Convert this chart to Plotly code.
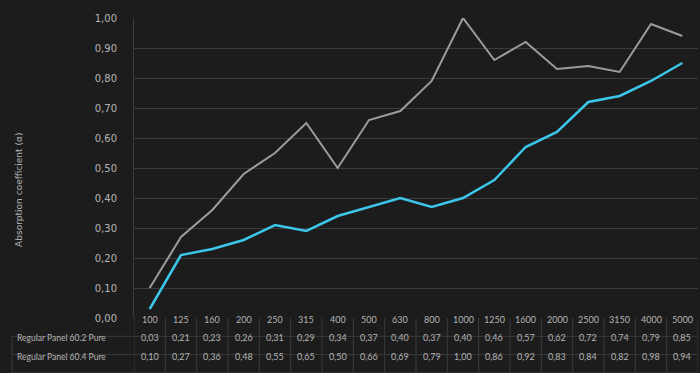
import plotly.graph_objects as go

freqs = ["100", "125", "160", "200", "250", "315", "400", "500", "630", "800",
         "1000", "1250", "1600", "2000", "2500", "3150", "4000", "5000"]
panel_602 = [0.03, 0.21, 0.23, 0.26, 0.31, 0.29, 0.34, 0.37, 0.40, 0.37,
             0.40, 0.46, 0.57, 0.62, 0.72, 0.74, 0.79, 0.85]
panel_604 = [0.10, 0.27, 0.36, 0.48, 0.55, 0.65, 0.50, 0.66, 0.69, 0.79,
             1.00, 0.86, 0.92, 0.83, 0.84, 0.82, 0.98, 0.94]
series_names = ["Regular Panel 60.2 Pure", "Regular Panel 60.4 Pure"]
y_ticks = [0.0, 0.1, 0.2, 0.3, 0.4, 0.5, 0.6, 0.7, 0.8, 0.9, 1.0]
y_title = "Absorption coefficient (α)"

BG = "#1c1c1c"
GRID = "#3b3b3b"
TXT = "#b4b4b4"
FONT = "Lato"

W, H = 700, 373
L, R, T, B = 134, 2, 18, 55
plot_h = H - T - B
plot_w = W - L - R


def py(px_below):  # pixels below plot bottom -> paper y
    return -px_below / plot_h


def px_x(px):  # absolute pixel x -> paper x
    return (px - L) / plot_w


def fmt(v):
    return f"{v:.2f}".replace(".", ",")


fig = go.Figure()
fig.add_trace(go.Scatter(x=freqs, y=panel_604, mode="lines", name=series_names[1],
                         line=dict(color="#9c9c9c", width=2)))
fig.add_trace(go.Scatter(x=freqs, y=panel_602, mode="lines", name=series_names[0],
                         line=dict(color="#3cc6ea", width=2.5)))

shapes = []
annotations = []
row_h = 18.3
# header row (frequencies) - category index positions on the x axis
for i, f in enumerate(freqs):
    annotations.append(dict(x=i, y=py(row_h / 2), xref="x", yref="paper", text=f,
                            showarrow=False, font=dict(size=9, color=TXT, family=FONT)))
for r, vals in enumerate([panel_602, panel_604]):
    yc = py(row_h * (r + 1.5))
    for i, v in enumerate(vals):
        annotations.append(dict(x=i, y=yc, xref="x", yref="paper", text=fmt(v),
                                showarrow=False, font=dict(size=9, color=TXT, family=FONT)))
    annotations.append(dict(x=px_x(15), y=yc, xref="paper", yref="paper", text=series_names[r],
                            xanchor="left", showarrow=False,
                            font=dict(size=8.5, color=TXT, family=FONT)))

# table vertical lines
for i in range(len(freqs) + 1):
    shapes.append(dict(type="line", xref="x", yref="paper", x0=i - 0.5, x1=i - 0.5,
                       y0=0, y1=py(B + 2), line=dict(color=GRID, width=1)))
# label column left border
shapes.append(dict(type="line", xref="paper", yref="paper", x0=px_x(12), x1=px_x(12),
                   y0=py(row_h), y1=py(B + 2), line=dict(color=GRID, width=1)))
# horizontal lines
for k in [1, 2, 3]:
    shapes.append(dict(type="line", xref="paper", yref="paper", x0=px_x(12), x1=1,
                       y0=py(row_h * k), y1=py(row_h * k), line=dict(color=GRID, width=1)))

annotations.append(dict(x=px_x(19), y=0.427, xref="paper", yref="paper", text=y_title,
                        textangle=-90, showarrow=False, xanchor="center", yanchor="middle",
                        font=dict(size=9, color=TXT, family="DejaVu Sans")))

fig.update_layout(
    width=W, height=H,
    margin=dict(l=L, r=R, t=T, b=B),
    paper_bgcolor=BG, plot_bgcolor=BG,
    showlegend=False,
    separators=",.",
    font=dict(family=FONT, color=TXT),
    shapes=shapes,
    annotations=annotations,
    xaxis=dict(type="category", range=[-0.5, len(freqs) - 0.5], showgrid=False,
               showticklabels=False, zeroline=False, showline=False),
    yaxis=dict(range=[0, 1], tickvals=y_ticks, tickformat=".2f", gridcolor=GRID,
               gridwidth=1, zeroline=False, showline=True, linecolor=GRID,
               ticks="", ticklabelstandoff=14,
               tickfont=dict(size=10, color=TXT, family="DejaVu Sans")),
)

fig.write_html(
    "out.html",
    config={"displayModeBar": False},
    post_script="document.body.style.margin='0';document.body.style.overflow='hidden';"
                "document.body.style.background='" + BG + "';",
)
